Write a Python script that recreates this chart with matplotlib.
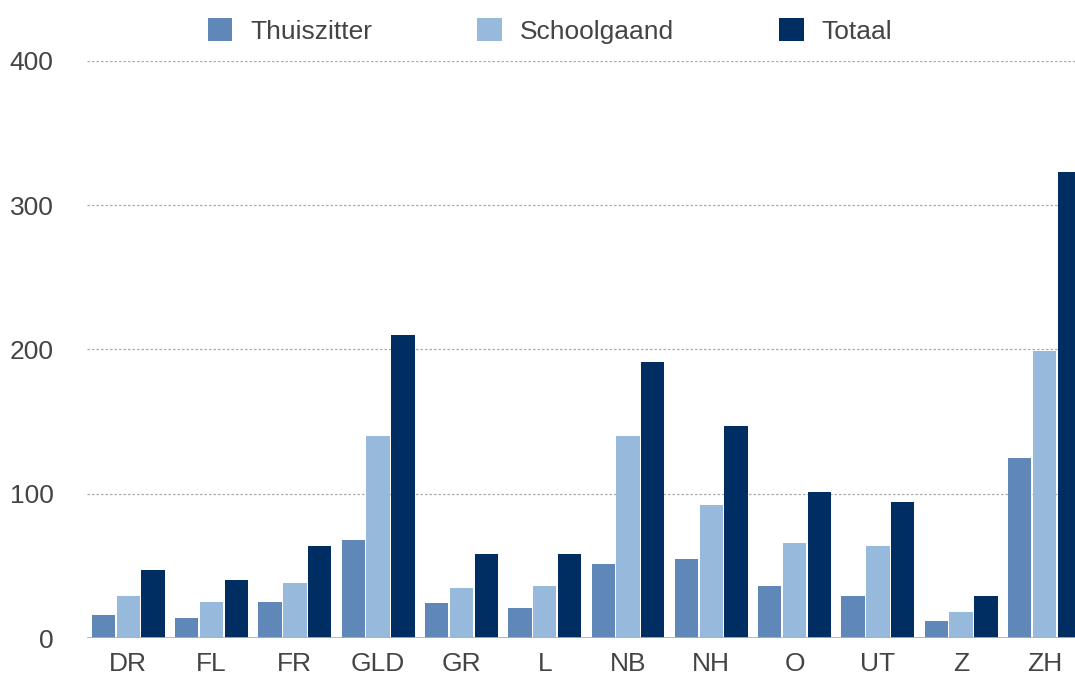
import numpy as np
import matplotlib
matplotlib.use("Agg")
from matplotlib import pyplot as plt
from matplotlib.patches import Patch

provinces = ['DR', 'FL', 'FR', 'GLD', 'GR', 'L', 'NB', 'NH', 'O', 'UT', 'Z', 'ZH']
thuiszitter = [16, 14, 25, 68, 24, 21, 51, 55, 36, 29, 12, 125]
schoolgaand = [29, 25, 38, 140, 35, 36, 140, 92, 66, 64, 18, 199]
totaal = [47, 40, 64, 210, 58, 58, 191, 147, 101, 94, 29, 323]

series_names = ['Thuiszitter', 'Schoolgaand', 'Totaal']
colors = ['#5f87b8', '#96b9dc', '#002d62']
yticks = [0, 100, 200, 300, 400]


def main():
    plt.rcParams['font.family'] = ['Liberation Sans', 'DejaVu Sans']
    text_color = '#444444'

    fig = plt.figure(figsize=(10.75, 6.76), dpi=100)
    ax = fig.add_axes([0.081, 0.0562, 0.919, 0.8536])

    x = np.arange(len(provinces))
    width = 0.28
    step = 0.298
    for i, (vals, col) in enumerate(zip([thuiszitter, schoolgaand, totaal], colors)):
        ax.bar(x + (i - 1) * step, vals, width=width, color=col, zorder=3)

    ax.set_xlim(-0.495, 11.367)
    ax.set_ylim(0, 400)
    ax.set_yticks(yticks)
    ax.set_xticks(x)
    ax.set_xticklabels(provinces)

    for y in yticks[1:]:
        ax.axhline(y, color='#aaaaaa', linestyle=(0, (2, 1.6)), linewidth=0.9, zorder=1)
    ax.axhline(0, color='#b0b0b0', linewidth=2, zorder=4)

    for s in ax.spines.values():
        s.set_visible(False)
    ax.tick_params(axis='both', length=0, labelsize=19, colors=text_color)
    ax.tick_params(axis='y', pad=24)
    ax.tick_params(axis='x', pad=10)

    handles = [Patch(facecolor=c, edgecolor='none') for c in colors]
    leg = fig.legend(handles, series_names, loc='center', bbox_to_anchor=(0.5116, 0.954),
                     ncol=3, frameon=False, fontsize=19, handlelength=0.92,
                     handleheight=0.92, handletextpad=0.68, columnspacing=4.0)
    for t in leg.get_texts():
        t.set_color(text_color)

    fig.savefig('out.png', dpi=100)


if __name__ == '__main__':
    main()
